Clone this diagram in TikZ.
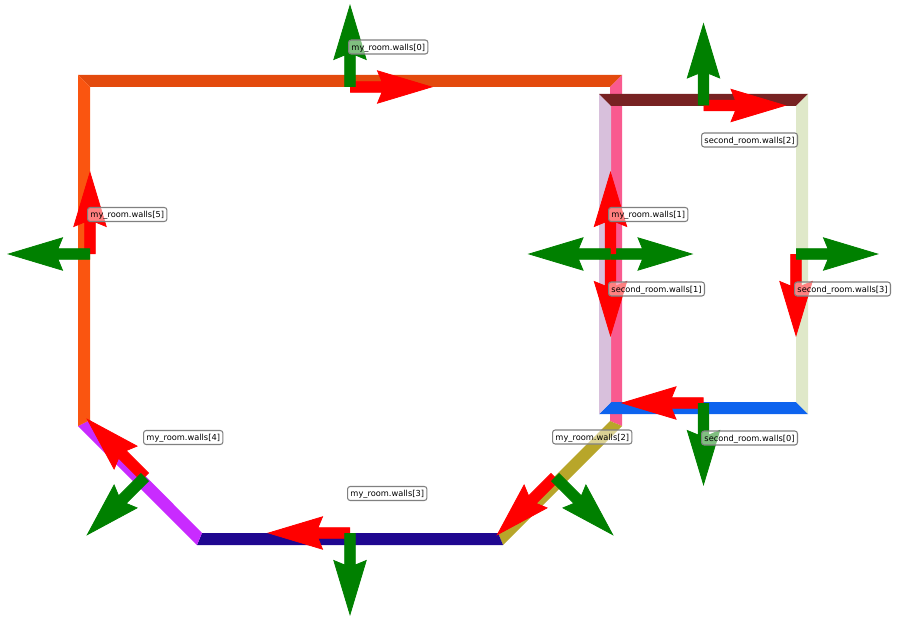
\documentclass[tikz,border=0pt]{standalone}
\usepackage{fontspec}
\setmainfont{DejaVu Sans}
\definecolor{wallA}{HTML}{E34A0D}
\definecolor{wallB}{HTML}{F95A8F}
\definecolor{wallC}{HTML}{B8A62A}
\definecolor{wallD}{HTML}{1F0790}
\definecolor{wallE}{HTML}{C92BFF}
\definecolor{wallF}{HTML}{FA5510}
\definecolor{wallG}{HTML}{0D63EE}
\definecolor{wallH}{HTML}{D8C0DC}
\definecolor{wallI}{HTML}{772222}
\definecolor{wallJ}{HTML}{DFE8C9}
\definecolor{arrowgreen}{HTML}{008000}
\tikzset{
    wallbox/.style={anchor=west,draw=black!50,fill=white,fill opacity=0.5,
        text opacity=1,rounded corners=2pt,line width=0.8pt,inner sep=0pt,
        minimum height=10.5pt,text depth=0pt,
        font=\fontsize{6.2}{7}\selectfont,inner xsep=2.2pt}
}
% one arrow: start, angle, colour
\newcommand{\wallarrow}[3]{
    \filldraw[#3,line width=0.6pt,miter limit=20,shift={#1},rotate=#2]
        (0.4,-5.3) -- (32,-5.3) -- (27.5,-16.2) -- (81.5,0) -- (27.5,16.2) -- (32,5.3) -- (0.4,5.3) -- cycle;
}

\begin{document}
\begin{tikzpicture}[x=0.75pt,y=-0.75pt]
            \useasboundingbox (0,0) rectangle (898,624);

            %%%%%%%%%%%%%%%%%%%%%%%%%%%%%%%%%%%
            % my_room
            \fill[wallA] (78,75) -- (622,75) -- (610,87) -- (90,87) -- cycle;
            \fill[wallB] (622,75) -- (622,426) -- (610,421) -- (610,87) -- cycle;
            \fill[wallC] (622,426) -- (503,545) -- (498,533) -- (610,421) -- cycle;
            \fill[wallD] (503,545) -- (197,545) -- (202,533) -- (498,533) -- cycle;
            \fill[wallE] (197,545) -- (78,426) -- (90,420) -- (202,533) -- cycle;
            \fill[wallF] (78,426) -- (78,75) -- (90,87) -- (90,420) -- cycle;

            %%%%%%%%%%%%%%%%%%%%%%%%%%%%%%%%%%%
            % second_room
            \fill[wallG] (599,414) -- (808,414) -- (796,402) -- (611,402) -- cycle;
            \fill[wallH] (599,94) -- (611,106) -- (611,402) -- (599,414) -- cycle;
            \fill[wallI] (599,94) -- (808,94) -- (796,106) -- (611,106) -- cycle;
            \fill[wallJ] (808,94) -- (808,414) -- (796,402) -- (796,106) -- cycle;

            %%%%%%%%%%%%%%%%%%%%%%%%%%%%%%%%%%%
            % my_room arrows
            \wallarrow{(350,87)}{0}{red}
            \wallarrow{(350,87)}{90}{arrowgreen}
            \wallarrow{(610.5,254)}{270}{red} % second_room.walls[1], lies under my_room.walls[1]
            \wallarrow{(610.5,254)}{0}{arrowgreen}
            \wallarrow{(610.5,254)}{90}{red}
            \wallarrow{(555,477)}{225}{red}
            \wallarrow{(555,477)}{315}{arrowgreen}
            \wallarrow{(350,533)}{180}{red}
            \wallarrow{(350,533)}{270}{arrowgreen}
            \wallarrow{(145,477)}{135}{red}
            \wallarrow{(145,477)}{225}{arrowgreen}
            \wallarrow{(90,254)}{90}{red}
            \wallarrow{(90,254)}{180}{arrowgreen}

            % second_room arrows
            \wallarrow{(703.5,403)}{180}{red}
            \wallarrow{(703.5,403)}{270}{arrowgreen}
            \wallarrow{(610.5,254)}{180}{arrowgreen}
            \wallarrow{(703.5,105.5)}{0}{red}
            \wallarrow{(703.5,105.5)}{90}{arrowgreen}
            \wallarrow{(796,254)}{270}{red}
            \wallarrow{(796,254)}{0}{arrowgreen}

            %%%%%%%%%%%%%%%%%%%%%%%%%%%%%%%%%%%
            % labels
            \node[wallbox] (my0) at (348,47) {my\_room.walls[0]};
            \node[wallbox] (my1) at (608,214.5) {my\_room.walls[1]};
            \node[wallbox] (my2) at (552,437) {my\_room.walls[2]};
            \node[wallbox] (my3) at (347,493.5) {my\_room.walls[3]};
            \node[wallbox] (my4) at (143,437.5) {my\_room.walls[4]};
            \node[wallbox] (my5) at (87,214.5) {my\_room.walls[5]};
            \node[wallbox] (second0) at (701,438) {second\_room.walls[0]};
            \node[wallbox] (second1) at (608,289) {second\_room.walls[1]};
            \node[wallbox] (second2) at (701,140) {second\_room.walls[2]};
            \node[wallbox] (second3) at (794,289) {second\_room.walls[3]};

        \end{tikzpicture}
\end{document}
